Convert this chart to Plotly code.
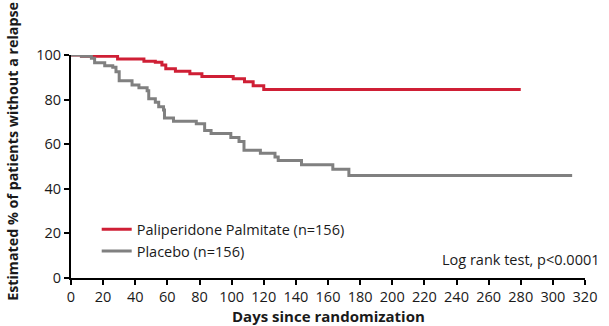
import plotly.graph_objects as go

# Kaplan-Meier step data (day, % without relapse)
pp_days = [0, 6.5, 29, 45.4, 52.5, 56.6, 59, 65, 74, 81.5, 101, 108, 113.4, 120, 280]
pp_pct = [100, 99.4, 98.2, 97.2, 96.7, 95.5, 93.8, 92.7, 91.6, 90.4, 89.3, 88.0, 86.2, 84.5, 84.5]

pl_days = [0, 6.5, 12.7, 14.7, 21, 26, 28, 30, 38, 42.3, 47.4, 48.4, 52.5, 54.6, 57.6, 58.2,
           63.8, 78, 83.2, 87.2, 99.5, 104.6, 107.7, 117.9, 127, 129, 143.5, 163, 173, 312]
pl_pct = [100, 99.4, 98.5, 96.5, 95.2, 94.5, 92.5, 88.5, 86.6, 85.3, 84.0, 80.4, 78.8, 76.8, 75.3, 71.8,
          70.3, 69.2, 66.1, 64.8, 63.0, 61.2, 57.3, 55.9, 54.3, 52.7, 50.8, 48.8, 46.0, 46.0]

x_ticks = list(range(0, 321, 20))
y_ticks = [0, 20, 40, 60, 80, 100]

series_names = ["Paliperidone Palmitate (n=156)", "Placebo (n=156)"]
colors = ["#cf1f35", "#808080"]

FONT = "Open Sans"
TXT = "#1a1a1a"

fig = go.Figure()
fig.add_trace(go.Scatter(x=pp_days, y=pp_pct, mode="lines", line=dict(shape="hv", color=colors[0], width=3),
                         name=series_names[0], cliponaxis=False))
fig.add_trace(go.Scatter(x=pl_days, y=pl_pct, mode="lines", line=dict(shape="hv", color=colors[1], width=3),
                         name=series_names[1], cliponaxis=False))

fig.update_layout(
    width=609, height=326,
    margin=dict(l=71, r=16.5, t=55, b=48),
    paper_bgcolor="white", plot_bgcolor="white",
    font=dict(family=FONT, size=14, color=TXT),
    showlegend=True,
    legend=dict(x=0.05, y=0.29, xanchor="left", yanchor="top", bgcolor="rgba(0,0,0,0)",
                font=dict(family=FONT, size=14.5, color=TXT), tracegroupgap=0, itemwidth=30),
    xaxis=dict(range=[0, 320], tickvals=x_ticks, showgrid=False, zeroline=False,
               showline=True, linecolor="black", linewidth=2,
               ticks="outside", ticklen=5, tickwidth=2, tickcolor="black",
               tickfont=dict(family=FONT, size=14.5, color=TXT)),
    yaxis=dict(range=[0, 100], tickvals=y_ticks, showgrid=False, zeroline=False,
               showline=True, linecolor="black", linewidth=2,
               ticks="outside", ticklen=5, tickwidth=2, tickcolor="black",
               tickfont=dict(family=FONT, size=14.5, color=TXT)),
    annotations=[
        dict(text="<b>Estimated % of patients without a relapse</b>", xref="paper", yref="paper",
             x=-0.113, y=0.57, textangle=-90, showarrow=False, xanchor="center", yanchor="middle",
             font=dict(family=FONT, size=14.3, color=TXT)),
        dict(text="<b>Days since randomization</b>", xref="paper", yref="paper",
             x=0.5, y=-0.17, showarrow=False, xanchor="center", yanchor="middle",
             font=dict(family=FONT, size=15, color=TXT)),
        dict(text="Log rank test, p<0.0001", xref="paper", yref="paper",
             x=1.034, y=0.085, showarrow=False, xanchor="right", yanchor="middle",
             font=dict(family=FONT, size=14.5, color=TXT)),
    ],
)

fig.write_html("out.html")
